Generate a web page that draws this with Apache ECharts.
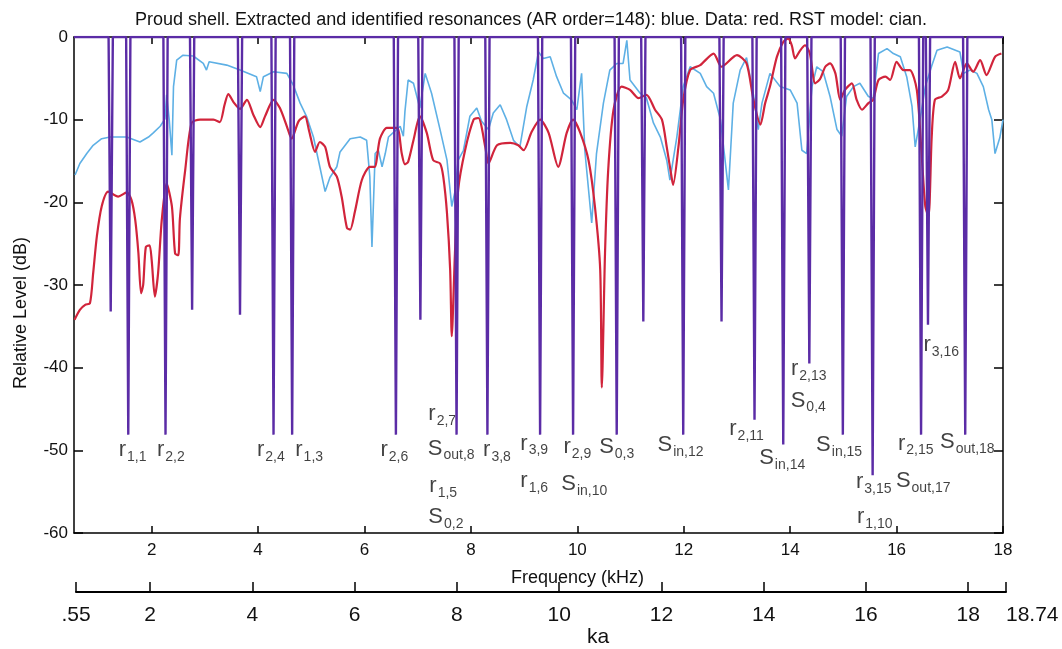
<!DOCTYPE html>
<html><head><meta charset="utf-8">
<script src="https://cdn.jsdelivr.net/npm/echarts@6/dist/echarts.min.js"></script>
<style>html,body{margin:0;padding:0;background:#fff}#chart{width:1062px;height:649px}</style>
</head><body><div id="chart"></div>
<script>
// ---- data ----
const freqTicks = [2, 4, 6, 8, 10, 12, 14, 16, 18];
const kaTicks = [0.55, 2, 4, 6, 8, 10, 12, 14, 16, 18, 18.74];

// extracted resonances (AR order = 148): frequency (kHz) and dip depth (dB)
const resonanceFreq  = [1.23, 1.56, 2.26, 2.76, 3.66, 4.29, 4.64, 6.59, 7.05, 7.73, 8.31, 9.30, 9.92, 10.74, 11.24, 11.99, 12.71, 13.33, 13.87, 14.36, 14.99, 15.55, 16.46, 16.59, 17.29];
const resonanceDepth = [-33.2, -48.1, -48.1, -33, -33.6, -48.1, -48.1, -48.1, -34.2, -48.1, -48.1, -48.1, -48.1, -48.1, -34.4, -48.1, -34.4, -46.3, -49.3, -39.5, -48.1, -53, -48.1, -34.8, -48.1];

// measured data (red): [kHz, dB]
const dataCurve = [
 [0.55,-34.2],[0.65,-33],[0.75,-32.4],[0.84,-32.2],[0.90,-28.6],[0.97,-24.1],[1.06,-20.5],[1.18,-18.7],[1.37,-19.3],[1.53,-18.8],
 [1.62,-19.7],[1.69,-22.1],[1.75,-26.1],[1.80,-31],[1.84,-30],[1.89,-25.4],[1.96,-25.2],[2.00,-27],[2.06,-31.4],[2.12,-28.6],
 [2.19,-22.1],[2.28,-17.7],[2.38,-20.5],[2.44,-26.2],[2.50,-26.4],[2.53,-22],[2.63,-16.1],[2.75,-10.4],[2.91,-10],[3.16,-10],
 [3.28,-10.3],[3.37,-8.2],[3.44,-6.9],[3.54,-7.9],[3.66,-8.7],[3.79,-7.6],[3.91,-9.4],[4.04,-10.9],[4.13,-9.6],[4.29,-7.6],
 [4.41,-8.6],[4.54,-10.8],[4.63,-12.3],[4.76,-10.2],[4.88,-9.6],[4.96,-11.4],[5.07,-13.9],[5.16,-12.7],[5.26,-13.3],[5.35,-15.7],
 [5.48,-16.9],[5.57,-19.3],[5.67,-23.1],[5.73,-23.3],[5.82,-21.1],[5.95,-17.3],[6.10,-15.7],[6.19,-15.7],[6.29,-12.3],[6.42,-11],
 [6.61,-11],[6.70,-14.1],[6.76,-15.4],[6.82,-15.1],[6.92,-12.5],[7.04,-9.6],[7.17,-11.6],[7.29,-14.9],[7.42,-15.3],[7.48,-16.9],
 [7.55,-21.3],[7.61,-28.2],[7.64,-36.2],[7.70,-26.1],[7.76,-18.5],[7.89,-13.7],[8.05,-10],[8.14,-9.8],[8.27,-13.3],[8.33,-15.3],
 [8.49,-13.1],[8.74,-12.8],[8.89,-13.1],[8.99,-13.7],[9.14,-11.5],[9.30,-10],[9.46,-11.6],[9.64,-15.7],[9.80,-11.6],[9.92,-10],
 [10.05,-11.5],[10.21,-14.9],[10.33,-20.5],[10.43,-28.2],[10.46,-42.4],[10.52,-26.2],[10.58,-16.1],[10.68,-8.8],[10.83,-6],[10.99,-6.4],
 [11.15,-7.4],[11.30,-7],[11.46,-8.8],[11.59,-10],[11.68,-13.3],[11.77,-16.9],[11.80,-17.9],[11.90,-13.3],[11.99,-7.6],[12.12,-4],
 [12.31,-3.4],[12.56,-2],[12.71,-3.6],[13.00,-2.2],[13.18,-3.2],[13.31,-7.6],[13.44,-10.6],[13.53,-8],[13.62,-6],[13.75,-2.4],
 [13.87,-0.6],[13.96,-0.2],[14.03,-1],[14.09,-2.6],[14.18,-1.7],[14.28,-1],[14.37,-2],[14.47,-5.6],[14.56,-5.1],[14.66,-3.6],
 [14.75,-3.2],[14.85,-4.4],[14.94,-7.6],[15.03,-6.4],[15.16,-5.6],[15.25,-7.6],[15.35,-8.8],[15.47,-8],[15.56,-7.6],[15.66,-5.2],
 [15.79,-4.8],[15.88,-5.2],[16.00,-3],[16.13,-4],[16.25,-4],[16.38,-6.4],[16.47,-14.1],[16.54,-20.5],[16.60,-21.7],[16.66,-12.1],
 [16.72,-7.6],[16.85,-7.2],[16.97,-6.4],[17.10,-3],[17.19,-5],[17.32,-3.2],[17.44,-4.2],[17.57,-2.8],[17.69,-4.6],[17.85,-2.4],[17.97,-2]
];

// RST model (cyan): [kHz, dB]
const modelCurve = [
 [0.56,-16.7],[0.65,-15.3],[0.78,-14.1],[0.90,-13.1],[1.06,-12.3],[1.22,-12.1],[1.53,-12.1],[1.78,-12.7],[1.94,-12.1],[2.03,-11.6],
 [2.16,-10.8],[2.25,-9.9],[2.28,-7],[2.33,-10],[2.38,-14.3],[2.41,-6],[2.47,-2.8],[2.59,-2.2],[2.78,-2.3],[2.97,-3.2],
 [3.03,-4],[3.08,-3],[3.41,-3.4],[3.66,-4],[3.97,-4.8],[4.04,-6.6],[4.10,-4.8],[4.29,-4.2],[4.54,-4.4],[4.66,-5.8],
 [4.79,-8],[4.91,-9.6],[5.04,-12.1],[5.16,-15.7],[5.26,-18.7],[5.35,-17],[5.48,-15.7],[5.54,-13.9],[5.73,-12.3],[5.92,-12.1],
 [6.04,-12.5],[6.10,-16.9],[6.14,-25.4],[6.20,-14.1],[6.26,-13.7],[6.33,-15.7],[6.39,-14.1],[6.45,-12.1],[6.55,-11.5],[6.67,-10.8],
 [6.73,-12],[6.76,-9],[6.82,-5.2],[6.92,-5.6],[7.04,-8.6],[7.14,-4.4],[7.26,-6.8],[7.42,-11.2],[7.55,-14.9],[7.64,-20.5],
 [7.70,-18.7],[7.76,-14.9],[7.86,-13.7],[7.98,-9.6],[8.11,-8.6],[8.20,-10.2],[8.33,-11.2],[8.42,-9.2],[8.55,-8.2],[8.67,-10],
 [8.80,-12.5],[8.92,-13.3],[9.05,-8.4],[9.17,-5.2],[9.27,-1.8],[9.36,-2.6],[9.49,-2.4],[9.61,-4.8],[9.74,-6.8],[9.89,-7.6],
 [9.99,-8.8],[10.08,-4.4],[10.14,-13.7],[10.27,-22.5],[10.36,-14.1],[10.49,-8],[10.61,-4],[10.74,-3.2],[10.86,-3.2],[10.93,-0.4],
 [10.99,-5.2],[11.18,-6.8],[11.30,-7.4],[11.43,-10.4],[11.56,-12.1],[11.68,-14.9],[11.74,-17.3],[11.87,-12.1],[11.99,-6],[12.12,-3.6],
 [12.31,-4.4],[12.43,-6],[12.56,-6.8],[12.69,-10],[12.84,-18.5],[12.93,-8],[13.06,-4],[13.18,-2.5],[13.31,-7],[13.40,-11.2],
 [13.47,-8],[13.62,-4.4],[13.81,-6],[14.00,-6.4],[14.13,-8],[14.22,-13.7],[14.31,-14.1],[14.41,-6],[14.50,-3.6],[14.62,-4.2],
 [14.75,-7.2],[14.88,-11.2],[14.97,-12],[15.06,-7.2],[15.19,-6],[15.31,-5.6],[15.47,-7.2],[15.56,-7.4],[15.66,-2],[15.82,-1.4],
 [15.94,-2],[16.07,-2.4],[16.19,-4.8],[16.29,-8.4],[16.35,-13.3],[16.44,-10],[16.54,-6],[16.66,-3.5],[16.76,-1.6],[16.95,-1.2],
 [17.19,-1.8],[17.26,-4.4],[17.38,-4],[17.51,-4.4],[17.63,-6],[17.73,-8.8],[17.79,-10],[17.85,-14.1],[17.94,-12.2],[18.0,-10]
];

// resonance identification labels: symbol, subscript, anchor (kHz, dB)
const labelMain = ['r','r','r','r','r','r','S','r','S','r','r','r','r','S','S','S','r','S','r','S','S','r','r','r','S','r','S'];
const labelSub  = ['1,1','2,2','2,4','1,3','2,6','2,7','out,8','1,5','0,2','3,8','3,9','1,6','2,9','in,10','0,3','in,12','2,11','in,14','2,13','0,4','in,15','3,15','1,10','2,15','out,17','3,16','out,18'];
const labelFreq = [1.64,2.36,4.24,4.96,6.56,7.46,7.63,7.48,7.53,8.49,9.19,9.19,10.0,10.13,10.74,11.94,13.18,13.85,14.35,14.34,14.92,15.57,15.59,16.36,16.50,16.84,17.33];
const labelLevel = [-50.1,-50.1,-50.1,-50.1,-50.1,-45.7,-49.9,-54.4,-58.2,-50.1,-49.3,-53.8,-49.7,-54.2,-49.7,-49.5,-47.5,-51.1,-40.3,-44.1,-49.5,-54.0,-58.2,-49.3,-53.8,-37.4,-49.1];

// ---- build series ----
const F_MIN = 0.54, F_MAX = 18;
const HALF = 0.04; // half-width of each drawn resonance notch (kHz)
const resonanceLine = [[F_MIN, 0]];
resonanceFreq.forEach((f, i) => {
  resonanceLine.push([f - HALF, 0], [f, resonanceDepth[i]], [f + HALF, 0]);
});
resonanceLine.push([F_MAX, 0]);

const labelPoints = labelFreq.map((f, i) => ({ value: [f, labelLevel[i]], main: labelMain[i], sub: labelSub[i] }));

const FONT = 'Liberation Sans, Arial, Helvetica, sans-serif';
const chart = echarts.init(document.getElementById('chart'), null, { renderer: 'canvas' });

const boxLine = { show: true, onZero: false, lineStyle: { color: '#000', width: 1.5 } };

chart.setOption({
  animation: false,
  backgroundColor: '#fff',
  title: {
    text: 'Proud shell. Extracted and identified resonances (AR order=148): blue. Data: red. RST model: cian.',
    left: 'center', top: 6,
    textStyle: { fontFamily: FONT, fontSize: 18, fontWeight: 'normal', color: '#111' }
  },
  grid: [
    { left: 74, right: 59, top: 37, bottom: 116 },
    { left: 76, right: 56, top: 560, height: 39 }
  ],
  xAxis: [
    {
      type: 'value', gridIndex: 0, position: 'bottom', min: F_MIN, max: F_MAX,
      axisLine: boxLine,
      axisTick: { show: true, inside: true, length: 7, customValues: freqTicks, lineStyle: { color: '#000', width: 1.5 } },
      axisLabel: { show: true, customValues: freqTicks, margin: 9, fontFamily: FONT, fontSize: 17, color: '#111' },
      splitLine: { show: false },
      name: 'Frequency (kHz)', nameLocation: 'middle', nameGap: 36,
      nameTextStyle: { fontFamily: FONT, fontSize: 18, color: '#111', padding: [0, 0, 0, 78] }
    },
    {
      type: 'value', gridIndex: 0, position: 'top', min: F_MIN, max: F_MAX,
      axisLine: boxLine,
      axisTick: { show: true, inside: true, length: 7, customValues: freqTicks, lineStyle: { color: '#000', width: 1.5 } },
      axisLabel: { show: false }, splitLine: { show: false }
    },
    {
      type: 'value', gridIndex: 1, position: 'bottom', min: 0.55, max: 18.74,
      axisLine: { show: true, onZero: false, lineStyle: { color: '#000', width: 2 } },
      axisTick: { show: true, inside: true, length: 10, customValues: kaTicks, lineStyle: { color: '#000', width: 1.5 } },
      axisLabel: {
        show: true, customValues: kaTicks, margin: 13, fontFamily: FONT, fontSize: 21, color: '#111',
        alignMaxLabel: 'left',
        formatter: v => (v === 0.55 ? '.55' : String(v))
      },
      splitLine: { show: false },
      name: 'ka', nameLocation: 'middle', nameGap: 28,
      nameTextStyle: { fontFamily: FONT, fontSize: 21, color: '#111', padding: [0, 0, 0, 114] }
    }
  ],
  yAxis: [
    {
      type: 'value', gridIndex: 0, position: 'left', min: -60, max: 0, interval: 10,
      axisLine: boxLine,
      axisTick: { show: true, inside: true, length: 9, lineStyle: { color: '#000', width: 1.5 } },
      axisLabel: { show: true, margin: 6, fontFamily: FONT, fontSize: 17, color: '#111' },
      splitLine: { show: false },
      name: 'Relative Level (dB)', nameLocation: 'middle', nameGap: 44, nameRotate: 90,
      nameTextStyle: { fontFamily: FONT, fontSize: 18, color: '#111', padding: [0, 56, 0, 0] }
    },
    {
      type: 'value', gridIndex: 0, position: 'right', min: -60, max: 0, interval: 10,
      axisLine: boxLine,
      axisTick: { show: true, inside: true, length: 9, lineStyle: { color: '#000', width: 1.5 } },
      axisLabel: { show: false }, splitLine: { show: false }
    },
    { type: 'value', gridIndex: 1, show: false, min: 0, max: 1 }
  ],
  series: [
    {
      name: 'RST model', type: 'line', xAxisIndex: 0, yAxisIndex: 0, data: modelCurve,
      showSymbol: false, symbol: 'none', silent: true,
      lineStyle: { color: '#5eb0e5', width: 1.6 }
    },
    {
      name: 'Data', type: 'line', xAxisIndex: 0, yAxisIndex: 0, data: dataCurve,
      showSymbol: false, symbol: 'none', silent: true, smooth: 0.25,
      lineStyle: { color: '#d1243b', width: 2.2 }
    },
    {
      name: 'Extracted resonances', type: 'line', xAxisIndex: 0, yAxisIndex: 0, data: resonanceLine,
      showSymbol: false, symbol: 'none', silent: true,
      lineStyle: { color: '#5b2ca6', width: 2.4 }
    },
    {
      name: 'labels', type: 'scatter', xAxisIndex: 0, yAxisIndex: 0, data: labelPoints,
      symbolSize: 0, silent: true,
      label: {
        show: true, position: 'inside', align: 'center', verticalAlign: 'middle',
        formatter: p => '{m|' + p.data.main + '}{s|' + p.data.sub + '}',
        rich: {
          m: { fontFamily: FONT, fontSize: 22, lineHeight: 24, verticalAlign: 'top', color: '#111' },
          s: { fontFamily: FONT, fontSize: 14, lineHeight: 14, padding: [11, 0, 0, 1], verticalAlign: 'top', color: '#111' }
        }
      }
    }
  ]
});
</script>
</body></html>
